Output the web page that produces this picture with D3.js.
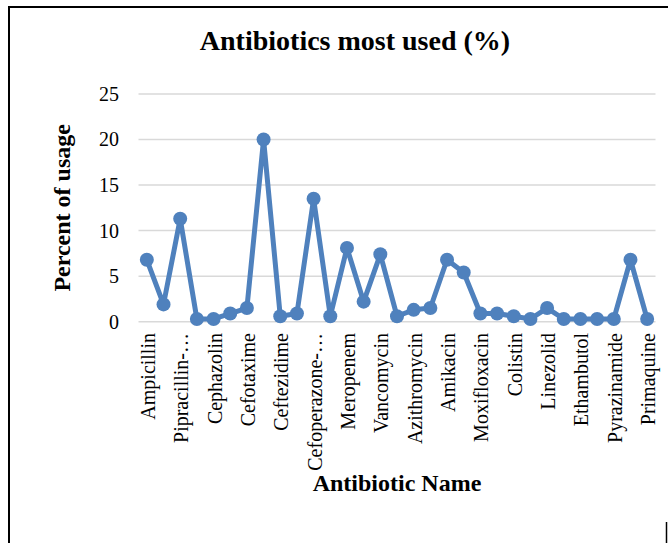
<!DOCTYPE html>
<html>
<head>
<meta charset="utf-8">
<script src="https://cdn.jsdelivr.net/npm/d3@7"></script>
<style>
  html, body { margin: 0; padding: 0; background: #fff; }
  svg { display: block; font-family: "Liberation Serif", "Times New Roman", serif; }
</style>
</head>
<body>
<svg id="chart" width="668" height="543"></svg>
<script>
// Antibiotic usage, percent of prescriptions
const antibiotics = [
  "Ampicillin", "Amoxicillin", "Pipracillin-tazobactam", "Cloxacillin",
  "Cephazolin", "Cefuroxime", "Cefotaxime", "Ceftriaxone", "Ceftezidime",
  "Cefepime", "Cefoperazone-sulbactam", "Imipenem", "Meropenem",
  "Metronidazole", "Vancomycin", "Teicoplanin", "Azithromycin", "Gentamicin",
  "Amikacin", "Levofloxacin", "Moxifloxacin", "Doxycycline", "Colistin",
  "Tigecycline", "Linezolid", "Isoniazid", "Ethambutol", "Rifampicin",
  "Pyrazinamide", "Chloroquine", "Primaquine"
];
const usagePercent = [
  6.8, 1.9, 11.3, 0.3, 0.3, 0.9, 1.5, 20.0, 0.6, 0.9, 13.5, 0.6, 8.1,
  2.2, 7.4, 0.6, 1.3, 1.5, 6.8, 5.4, 0.9, 0.9, 0.6, 0.3, 1.5, 0.3,
  0.3, 0.3, 0.3, 6.8, 0.3
];
const yTicks = [0, 5, 10, 15, 20, 25];

const chartTitle = "Antibiotics most used (%)";
const xTitle = "Antibiotic Name";
const yTitle = "Percent of usage";

const W = 668, H = 543;
const plot = { left: 138.5, right: 655.5, top: 94, bottom: 321.7 };
const blue = "#4F81BD";

const svg = d3.select("#chart");

// outer frame (left and top edges)
svg.append("path")
  .attr("d", `M9,${H} L9,7 L${W},7`)
  .attr("fill", "none").attr("stroke", "#000").attr("stroke-width", 2);
svg.append("line")
  .attr("x1", 666.5).attr("x2", 666.5).attr("y1", 522).attr("y2", H)
  .attr("stroke", "#000").attr("stroke-width", 1.5);

const x = d3.scaleBand()
  .domain(antibiotics)
  .range([plot.left, plot.right])
  .paddingInner(0).paddingOuter(0);

const y = d3.scaleLinear()
  .domain([0, 25])
  .range([plot.bottom, plot.top]);

// horizontal gridlines
svg.append("g")
  .selectAll("line")
  .data(yTicks)
  .join("line")
  .attr("x1", plot.left).attr("x2", plot.right)
  .attr("y1", d => y(d)).attr("y2", d => y(d))
  .attr("stroke", "#d9d9d9").attr("stroke-width", 1.5);

// y axis labels
const yAxis = d3.axisLeft(y).tickValues(yTicks).tickSize(0).tickPadding(0);
svg.append("g")
  .attr("transform", `translate(119,0)`)
  .call(yAxis)
  .call(g => g.select(".domain").remove())
  .call(g => g.selectAll("text")
    .attr("font-family", "Liberation Serif, Times New Roman, serif")
    .attr("font-size", 20).attr("fill", "#000"));

// x axis labels: every other category, rotated
const shown = antibiotics.filter((d, i) => i % 2 === 0);
const maxLabel = 135;
const xLabels = svg.append("g")
  .selectAll("text")
  .data(shown)
  .join("text")
  .attr("transform", d => `translate(${x(d) + x.bandwidth() / 2 + 1},333) rotate(-90)`)
  .attr("text-anchor", "end")
  .attr("dy", "0.35em")
  .attr("font-size", 20)
  .attr("fill", "#000")
  .text(d => d);
xLabels.each(function(d) {
  const t = d3.select(this);
  if (this.getComputedTextLength() > maxLabel && d.includes("-")) {
    t.text(d.slice(0, d.indexOf("-") + 1) + "\u2026");
  }
});

// series line
const line = d3.line()
  .x((d, i) => x(antibiotics[i]) + x.bandwidth() / 2)
  .y(d => y(d));

svg.append("path")
  .datum(usagePercent)
  .attr("d", line)
  .attr("fill", "none")
  .attr("stroke", blue)
  .attr("stroke-width", 5)
  .attr("stroke-linejoin", "round");

svg.append("g")
  .selectAll("circle")
  .data(usagePercent)
  .join("circle")
  .attr("cx", (d, i) => x(antibiotics[i]) + x.bandwidth() / 2)
  .attr("cy", d => y(d))
  .attr("r", 7)
  .attr("fill", blue);

// titles
svg.append("text")
  .attr("x", 355).attr("y", 50)
  .attr("text-anchor", "middle")
  .attr("font-size", 28).attr("font-weight", "bold")
  .text(chartTitle);

svg.append("text")
  .attr("x", (plot.left + plot.right) / 2).attr("y", 491)
  .attr("text-anchor", "middle")
  .attr("font-size", 24).attr("font-weight", "bold")
  .text(xTitle);

svg.append("text")
  .attr("transform", `translate(70,${(plot.top + plot.bottom) / 2}) rotate(-90)`)
  .attr("text-anchor", "middle")
  .attr("font-size", 24).attr("font-weight", "bold")
  .text(yTitle);
</script>
</body>
</html>
